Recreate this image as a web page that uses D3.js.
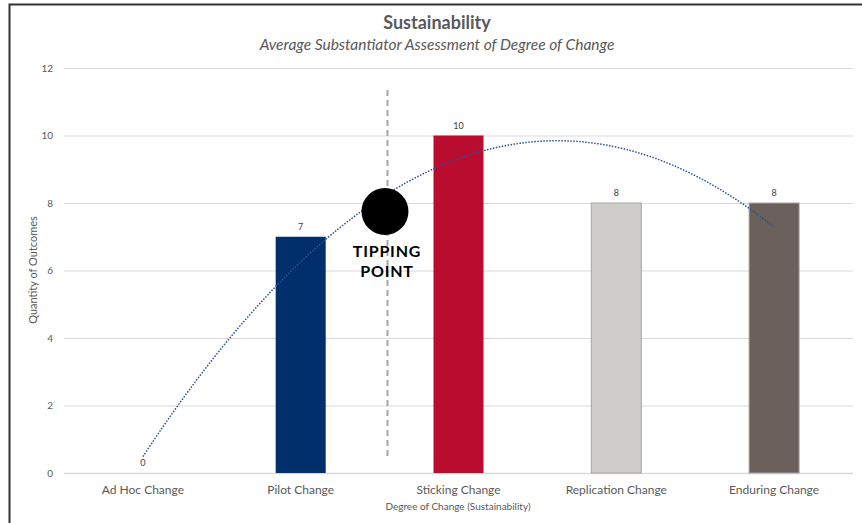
<!DOCTYPE html>
<html>
<head>
<meta charset="utf-8">
<script src="https://cdn.jsdelivr.net/npm/d3@7"></script>
<style>
  body { margin: 0; background: #fff; }
  svg { display: block; font-family: Lato, "Open Sans", sans-serif; }
</style>
</head>
<body>
<svg id="chart" width="862" height="523"></svg>
<script>
// chart data
const categories = ['Ad Hoc Change', 'Pilot Change', 'Sticking Change', 'Replication Change', 'Enduring Change'];
const outcomes = [0, 7, 10, 8, 8];
const barColors = ['#002f6c', '#002f6c', '#ba0c2f', '#cfcdc9', '#6b605c'];
const yTicks = [0, 2, 4, 6, 8, 10, 12];

const svg = d3.select('#chart');
const margin = { left: 64, right: 9, top: 68, bottom: 50 };
const width = 862, height = 523;

const x = d3.scaleBand()
  .domain(categories)
  .range([margin.left, width - margin.right])
  .paddingInner(0.683)
  .paddingOuter(0.3415);

const y = d3.scaleLinear()
  .domain([0, 12])
  .range([473, margin.top]);

// frame
svg.append('path')
  .attr('d', 'M9.5,540 L9.5,4.5 L870,4.5')
  .attr('fill', 'none')
  .attr('stroke', '#333')
  .attr('stroke-width', 2);

// gridlines
svg.append('g')
  .selectAll('line')
  .data(yTicks)
  .enter()
  .append('line')
  .attr('x1', margin.left)
  .attr('x2', width - margin.right)
  .attr('y1', d => y(d) + 0.5)
  .attr('y2', d => y(d) + 0.5)
  .attr('stroke', '#d9d9d9')
  .attr('stroke-width', d => d === 0 ? 1.5 : 1);

// y axis labels
svg.append('g')
  .selectAll('text')
  .data(yTicks)
  .enter()
  .append('text')
  .attr('x', 53)
  .attr('y', d => y(d) + 3.5)
  .attr('text-anchor', 'end')
  .attr('font-size', 10)
  .attr('fill', '#595959')
  .text(d => d);

// bars
svg.append('g')
  .selectAll('rect')
  .data(outcomes)
  .enter()
  .append('rect')
  .attr('x', (d, i) => x(categories[i]))
  .attr('y', d => y(d))
  .attr('width', x.bandwidth())
  .attr('height', d => y(0) - y(d))
  .attr('fill', (d, i) => barColors[i])
  .attr('stroke', (d, i) => i >= 3 ? '#a6a6a6' : 'none')
  .attr('stroke-width', 1);

// value labels
svg.append('g')
  .selectAll('text')
  .data(outcomes)
  .enter()
  .append('text')
  .attr('x', (d, i) => x(categories[i]) + x.bandwidth() / 2)
  .attr('y', d => y(d) - 7)
  .attr('text-anchor', 'middle')
  .attr('font-size', 9)
  .attr('fill', '#404040')
  .text(d => d);

// x labels
svg.append('g')
  .selectAll('text')
  .data(categories)
  .enter()
  .append('text')
  .attr('x', d => x(d) + x.bandwidth() / 2)
  .attr('y', 494)
  .attr('text-anchor', 'middle')
  .attr('font-size', 12)
  .attr('fill', '#595959')
  .text(d => d);

// polynomial (order 2) trendline, least squares fit of the bar values
const xs = outcomes.map((d, i) => i + 1);
const n = xs.length;
const mx = d3.mean(xs);
const ts = xs.map(v => v - mx);
const S2 = d3.sum(ts, t => t * t), S4 = d3.sum(ts, t => t ** 4);
const Sy = d3.sum(outcomes), Sty = d3.sum(ts, (t, i) => t * outcomes[i]);
const St2y = d3.sum(ts, (t, i) => t * t * outcomes[i]);
const cq = (n * St2y - S2 * Sy) / (n * S4 - S2 * S2);
const bq = Sty / S2;
const aq = (Sy - cq * S2) / n;
const trend = d3.range(0, 101).map(k => {
  const t = ts[0] + (ts[n - 1] - ts[0]) * k / 100;
  return [t, aq + bq * t + cq * t * t];
});
const cx = t => {
  const p = (t - ts[0]) / (ts[n - 1] - ts[0]);
  const x0 = x(categories[0]) + x.bandwidth() / 2;
  const x1 = x(categories[n - 1]) + x.bandwidth() / 2;
  return x0 + p * (x1 - x0);
};
svg.append('path')
  .datum(trend)
  .attr('d', d3.line().x(d => cx(d[0])).y(d => y(d[1])).curve(d3.curveBasis))
  .attr('fill', 'none')
  .attr('stroke', '#2f4f8f')
  .attr('stroke-width', 1.5)
  .attr('stroke-dasharray', '1.5,1.5');

// tipping point annotation
const tipX = x('Pilot Change') + x.bandwidth() / 2 + x.step() * 0.55;
svg.append('line')
  .attr('x1', tipX).attr('x2', tipX)
  .attr('y1', 90).attr('y2', 456)
  .attr('stroke', '#a6a6a6')
  .attr('stroke-width', 2)
  .attr('stroke-dasharray', '6,4');
svg.append('circle')
  .attr('cx', tipX - 2.5)
  .attr('cy', 211.5)
  .attr('r', 23.5)
  .attr('fill', '#000');
svg.append('text')
  .attr('x', tipX - 0.5)
  .attr('y', 257)
  .attr('text-anchor', 'middle')
  .attr('font-size', 16)
  .attr('font-weight', 'bold')
  .attr('letter-spacing', 0.8)
  .attr('fill', '#000')
  .text('TIPPING');
svg.append('text')
  .attr('x', tipX - 0.5)
  .attr('y', 277)
  .attr('text-anchor', 'middle')
  .attr('font-size', 16)
  .attr('font-weight', 'bold')
  .attr('letter-spacing', 0.8)
  .attr('fill', '#000')
  .text('POINT');

// titles
svg.append('text')
  .attr('x', 437).attr('y', 29)
  .attr('text-anchor', 'middle')
  .attr('font-size', 18)
  .attr('font-weight', 'bold')
  .attr('fill', '#595959')
  .text('Sustainability');
svg.append('text')
  .attr('x', 437).attr('y', 50)
  .attr('text-anchor', 'middle')
  .attr('font-size', 15.5)
  .attr('font-style', 'italic')
  .attr('fill', '#595959')
  .text('Average Substantiator Assessment of Degree of Change');

svg.append('text')
  .attr('transform', 'translate(37,270) rotate(-90)')
  .attr('text-anchor', 'middle')
  .attr('font-size', 11)
  .attr('fill', '#595959')
  .text('Quantity of Outcomes');

svg.append('text')
  .attr('x', 458).attr('y', 510)
  .attr('text-anchor', 'middle')
  .attr('font-size', 10)
  .attr('fill', '#595959')
  .text('Degree of Change (Sustainability)');
</script>
</body>
</html>
